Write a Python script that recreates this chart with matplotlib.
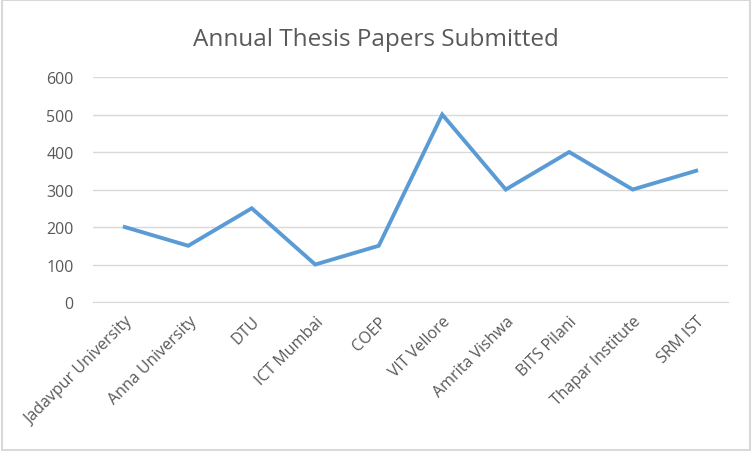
import matplotlib
matplotlib.use("Agg")
import matplotlib.pyplot as plt
from matplotlib.patches import Rectangle

universities = ["Jadavpur University", "Anna University", "DTU", "ICT Mumbai", "COEP",
                "VIT Vellore", "Amrita Vishwa", "BITS Pilani", "Thapar Institute", "SRM IST"]
papers = [200, 150, 250, 100, 150, 500, 300, 400, 300, 350]
y_ticks = [0, 100, 200, 300, 400, 500, 600]

TEXT = "#595959"
LINE = "#5B9BD5"
plt.rcParams["font.family"] = ["Open Sans", "DejaVu Sans"]

fig = plt.figure(figsize=(7.52, 4.52), dpi=100)
ax = fig.add_axes([0.1237, 0.3296, 0.8443, 0.4978])

x = list(range(len(universities)))
ax.plot(x, papers, color=LINE, lw=2.8, solid_joinstyle="miter")
ax.set_xlim(-0.5, len(universities) - 0.5)
ax.set_ylim(0, 600)
ax.set_yticks(y_ticks)
ax.set_yticklabels([str(v) for v in y_ticks], color=TEXT, fontsize=11.5)
ax.grid(axis="y", color="#D9D9D9", lw=1)
ax.set_axisbelow(True)
ax.set_xticks(x)
ax.set_xticklabels(universities, rotation=45, ha="right", rotation_mode="anchor",
                   color=TEXT, fontsize=11.5)
ax.tick_params(length=0, axis="x", pad=8)
ax.tick_params(length=0, axis="y", pad=14)
for s in ["top", "right", "left"]:
    ax.spines[s].set_visible(False)
ax.spines["bottom"].set_color("#D9D9D9")

fig.text(0.5, 0.912, "Annual Thesis Papers Submitted", ha="center", va="center",
         fontsize=17.5, color=TEXT)
fig.patches.append(Rectangle((0.002, 0.003), 0.996, 0.994, transform=fig.transFigure,
                             fill=False, edgecolor="#D9D9D9", lw=1.5))
fig.savefig("out.png", dpi=100)
